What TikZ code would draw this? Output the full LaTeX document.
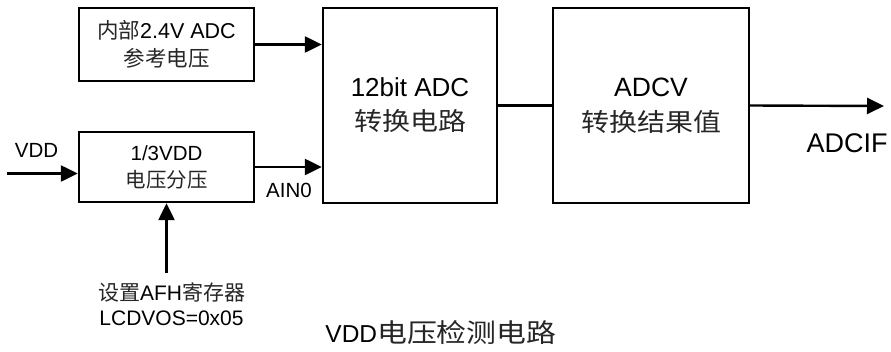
\documentclass[tikz,border=0pt]{standalone}
\usepackage{graphicx}
\usepackage{fontspec}
\setmainfont{Liberation Sans}
\newfontfamily\cjk{Noto Sans CJK SC}
\usetikzlibrary{arrows.meta}
\newcommand\zh[1]{{\cjk\color{black!85}#1}}
\newcommand\zhs[2]{\scalebox{#1}[1]{\zh{#2}}}
\begin{document}
\begin{tikzpicture}[x=1pt,y=-1pt,
  blk/.style={draw, line width=2.4pt, inner sep=0pt, align=center},
  lbl/.style={inner sep=0pt, align=center},
  arr/.style={-{Triangle[length=17pt,width=16pt]}, line width=2.4pt},
  wire/.style={line width=2.4pt}]
\useasboundingbox (0,0) rectangle (891,351);
% blocks
\node[blk, minimum width=175pt, minimum height=73pt, font=\fontsize{21.5}{28}\selectfont] (ref) at (166.5,44.5) {\zh{内部}2.4V ADC\\\zh{参考电压}};
\node[blk, minimum width=175pt, minimum height=70pt, font=\fontsize{20.5}{27}\selectfont] (div) at (166.5,167) {1/3VDD\\\zh{电压分压}};
\node[blk, minimum width=174pt, minimum height=195pt, font=\fontsize{26}{34}\selectfont] (adc) at (410,105.5) {12bit ADC\\\zhs{1.12}{\fontsize{25}{34}\selectfont 转换电路}};
\node[blk, minimum width=196pt, minimum height=195pt, font=\fontsize{26.5}{35}\selectfont] (adcv) at (651,105.5) {ADCV\\\zhs{1.12}{\fontsize{25}{35}\selectfont 转换结果值}};
% free ends
\coordinate (vddin) at (7,173.5);
\coordinate (setin) at (166.5,273);
\coordinate (out) at (884,106);
% connectors
\draw[arr] (ref.east) -- (ref.east -| adc.west);
\draw[arr] (div.east) -- (div.east -| adc.west);
\draw[wire] (adc.east) -- (adcv.west);
\draw[arr] (adcv.east) -- (out);
\draw[arr] (vddin) -- (vddin -| div.west);
\draw[arr] (setin) -- (div.south);
% labels
\node[lbl, font=\fontsize{20.5}{25}\selectfont] (vddlbl) at (36.5,150) {VDD};
\node[lbl, font=\fontsize{20.5}{25}\selectfont] (ainlbl) at (289,190) {AIN0};
\node[lbl, font=\fontsize{27}{32}\selectfont] (adciflbl) at (847,143) {ADCIF};
\node[lbl, font=\fontsize{21}{25}\selectfont] (setlbl) at (171.5,304.5) {\zh{设置}AFH\zh{寄存器}\\LCDVOS=0x05};
\node[lbl, font=\fontsize{24.5}{30}\selectfont] (caption) at (441,333) {VDD\zhs{1.15}{\fontsize{26}{30}\selectfont 电压检测电路}};
\end{tikzpicture}
\end{document}
